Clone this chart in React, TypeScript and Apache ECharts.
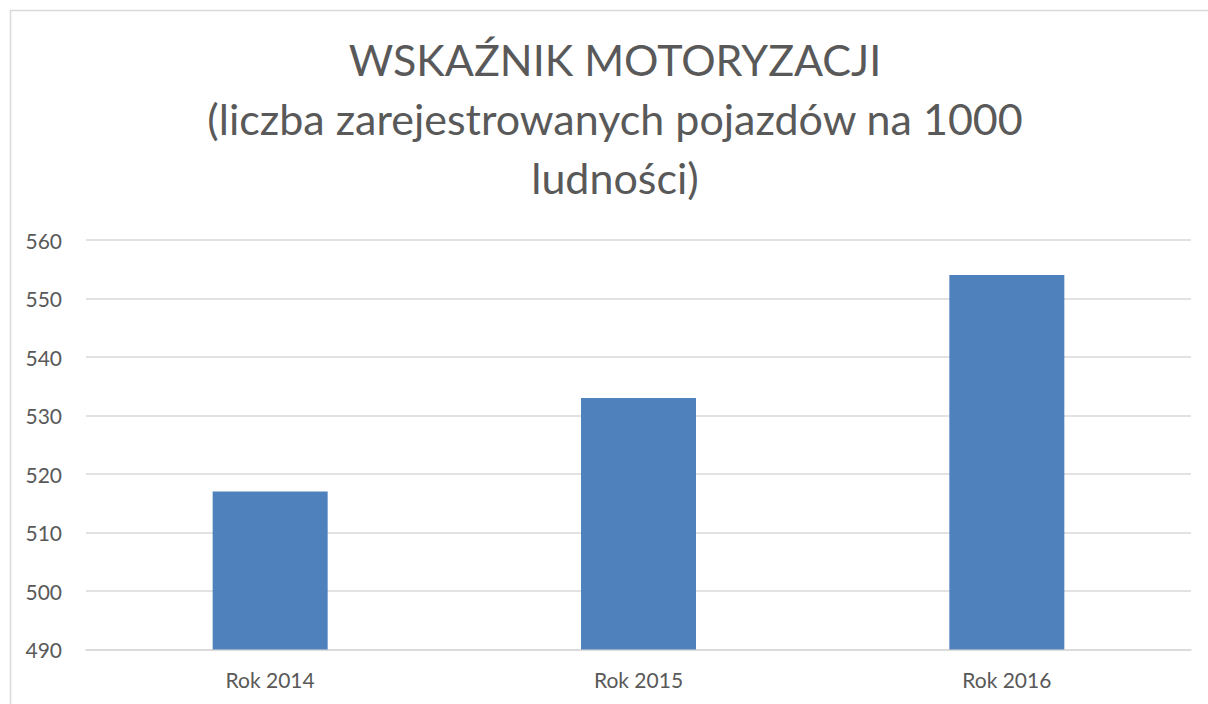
import React, { useEffect, useRef } from "react";
import * as echarts from "echarts";

const titleText = "WSKAŹNIK MOTORYZACJI\n(liczba zarejestrowanych pojazdów na 1000\nludności)";
const categories = ["Rok 2014", "Rok 2015", "Rok 2016"];
const values = [517, 533, 554];
const yMin = 490;
const yMax = 560;
const yStep = 10;

export default function App() {
  const ref = useRef<HTMLDivElement>(null);
  useEffect(() => {
    if (!ref.current) return;
    const chart = echarts.init(ref.current, null, { renderer: "svg" });
    chart.setOption({
      animation: false,
      backgroundColor: "#ffffff",
      textStyle: { fontFamily: "Lato" },
      graphic: [
        {
          type: "rect",
          shape: { x: 10.5, y: 10.5, width: 1220, height: 740 },
          style: { fill: "none", stroke: "#D9D9D9", lineWidth: 1.5 },
          silent: true,
        },
        {
          type: "text",
          x: 615,
          y: 30,
          style: {
            text: titleText,
            fontFamily: "Lato",
            fontSize: 43,
            lineHeight: 59,
            fill: "#595959",
            align: "center",
            verticalAlign: "top",
          },
        },
      ],
      grid: { left: 86, right: 17, top: 240, bottom: 54.5, containLabel: false },
      xAxis: {
        type: "category",
        data: categories,
        axisLine: { show: true, lineStyle: { color: "#D9D9D9", width: 1.5 } },
        axisTick: { show: false },
        axisLabel: { color: "#595959", fontSize: 21, fontFamily: "Lato", margin: 19 },
      },
      yAxis: {
        type: "value",
        min: yMin,
        max: yMax,
        interval: yStep,
        axisLine: { show: false },
        axisTick: { show: false },
        axisLabel: { color: "#595959", fontSize: 21, fontFamily: "Lato", margin: 24 },
        splitLine: { lineStyle: { color: "#D9D9D9", width: 1.5 } },
      },
      series: [
        {
          type: "bar",
          data: values,
          barWidth: 115,
          itemStyle: { color: "#4F81BD" },
        },
      ],
    });
    return () => chart.dispose();
  }, []);
  return (
    <div
      ref={ref}
      style={{ position: "fixed", left: 0, top: 0, width: 1208, height: 704 }}
    />
  );
}
